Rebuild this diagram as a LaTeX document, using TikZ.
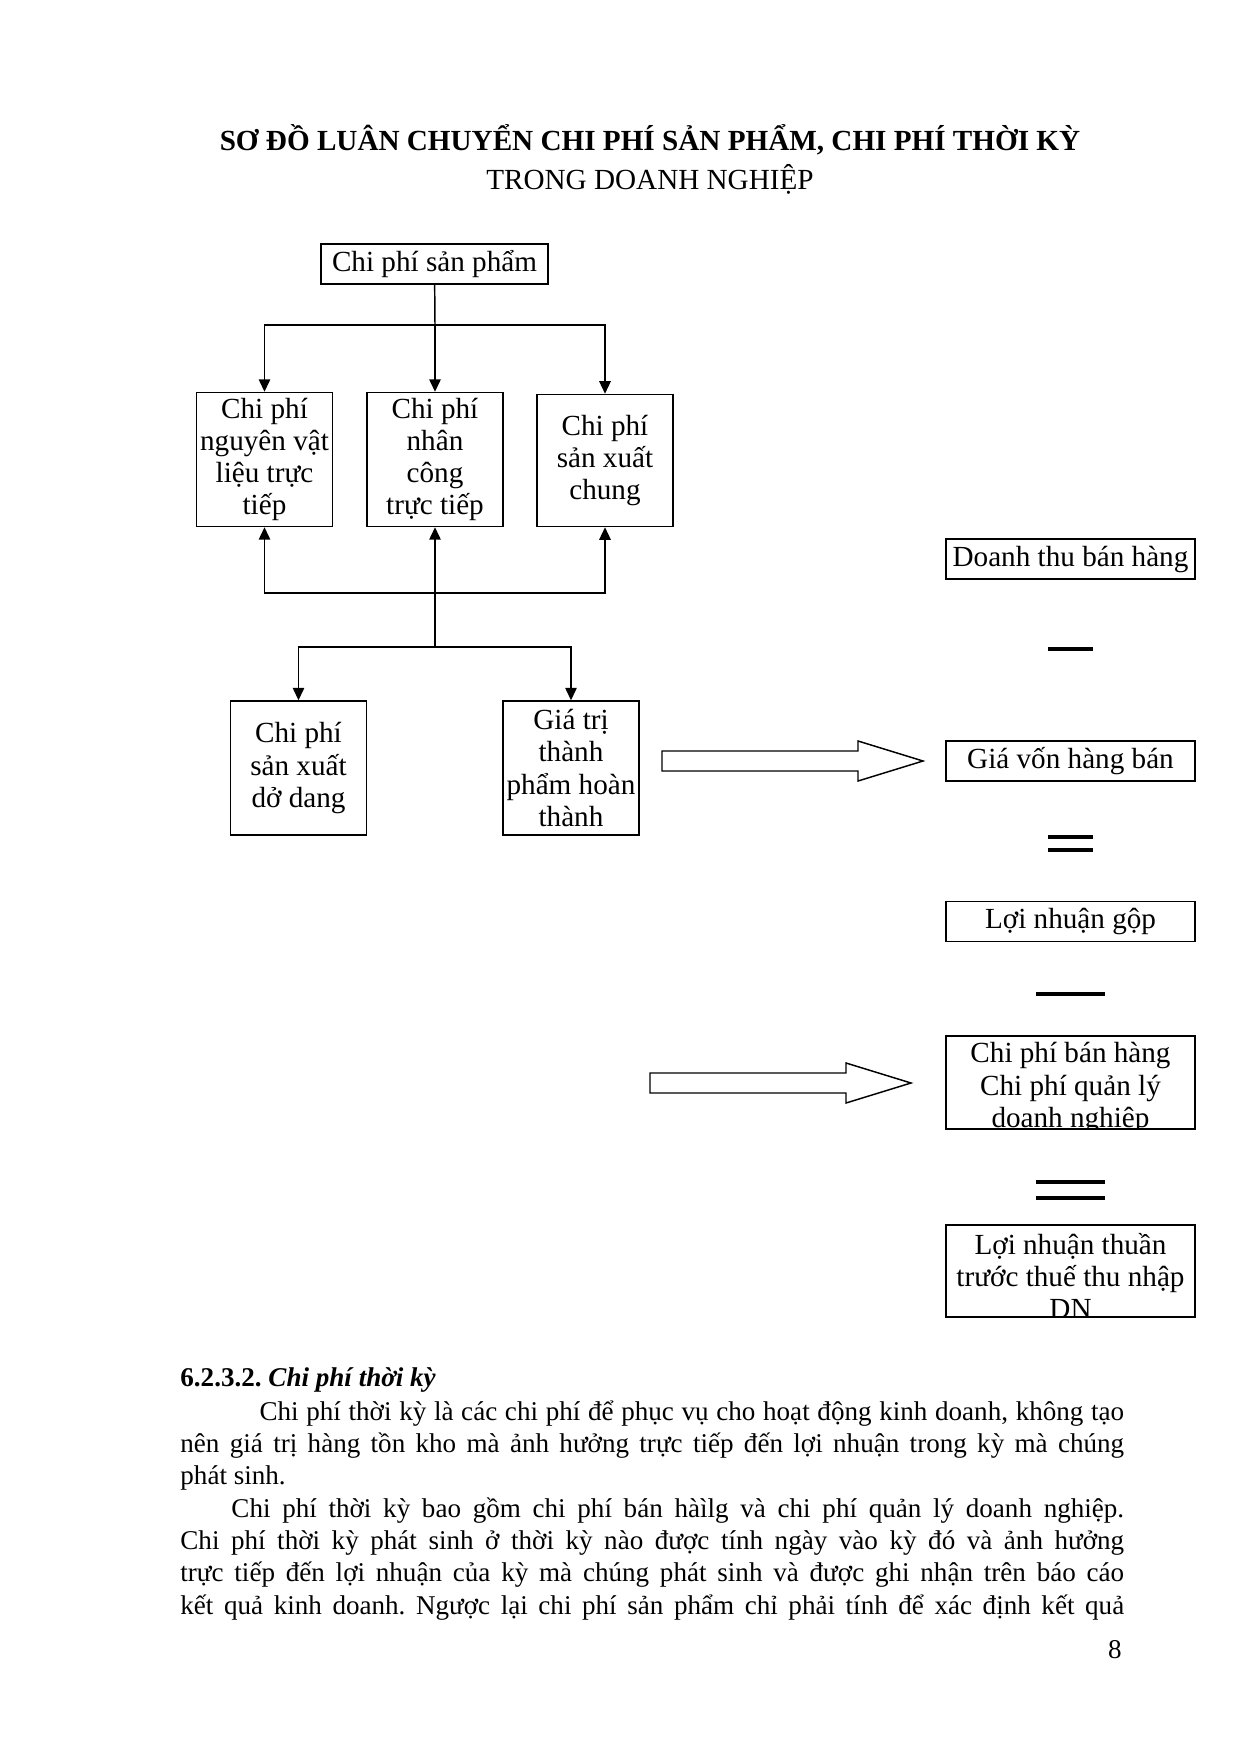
\documentclass[tikz,border=0pt]{standalone}
\usepackage{fontspec}
\setmainfont{Liberation Serif}
\usetikzlibrary{arrows.meta}

\begin{document}
\begin{tikzpicture}[x=0.48pt,y=-0.48pt]
\tikzset{box/.style = {draw, line width=0.7pt, inner sep=0.5pt, align=center,
    font=\fontsize{14}{15.5}\selectfont, minimum width=65.3pt, minimum height=64.3pt},
  wbox/.style = {box, minimum width=119.5pt, minimum height=19.2pt},
  arr/.style = {line width=0.7pt, -{Triangle[length=6pt,width=5.5pt]}},
  sign/.style = {line width=1.6pt},
  hollow/.style = {draw, line width=0.7pt, fill=white},
  body/.style = {font=\fontsize{13}{15.55}\selectfont\frenchspacing}}
\useasboundingbox (0,0) rectangle (1240,1753);
\node[anchor=base, font=\fontsize{14}{17}\selectfont\bfseries] (title) at (650,150)
  {SƠ ĐỒ LUÂN CHUYỂN CHI PHÍ SẢN PHẨM, CHI PHÍ THỜI KỲ};
\node[anchor=base, font=\fontsize{14}{17}\selectfont] (subtitle) at (650,189) {TRONG DOANH NGHIỆP};
\node[box, minimum width=109pt, minimum height=19.2pt] (sp) at (434.5,264) {Chi phí sản phẩm};
\node[box] (nvl) at (264.5,459.5) {Chi phí\\nguyên vật\\liệu trực\\tiếp};
\node[box] (nc) at (435,459.5) {Chi phí\\nhân\\công\\trực tiếp};
\node[box, minimum height=63.4pt] (sxc) at (605,460.5) {Chi phí\\sản xuất\\chung};
\node[box] (dd) at (298.5,768) {Chi phí\\sản xuất\\dở dang};
\node[box] (tp) at (571,768) {Giá trị\\thành\\phẩm hoàn\\thành};
\coordinate (j1) at (435,325);
\coordinate (j2) at (435,593);
\coordinate (j3) at (435,647);
\draw[line width=0.7pt] (sp) -- (j1);
\draw[arr] (j1) -| (nvl);
\draw[arr] (j1) -- (nc);
\draw[arr] (j1) -| (sxc);
\draw[arr] (j3) -- (nc);
\draw[arr] (j2) -| (nvl);
\draw[arr] (j2) -| (sxc);
\draw[arr] (j3) -| (dd);
\draw[arr] (j3) -| (tp);
\foreach \xs/\xe/\yc in {662/923/761, 650/911/1083}
  \draw[hollow] (\xs,\yc-10) -- (\xe-65,\yc-10) -- (\xe-65,\yc-20) -- (\xe,\yc)
    -- (\xe-65,\yc+20) -- (\xe-65,\yc+10) -- (\xs,\yc+10) -- cycle;
\node[wbox] (dt) at (1070.5,559) {Doanh thu bán hàng};
\node[wbox] (gv) at (1070.5,761) {Giá vốn hàng bán};
\node[wbox] (lng) at (1070.5,921.5) {Lợi nhuận gộp};
\node[wbox, minimum height=44.6pt] (cp) at (1070.5,1082.5) {};
\node[wbox, minimum height=44.2pt] (lnt) at (1070.5,1271) {};
\begin{scope}
  \clip (cp.north west) rectangle (cp.south east);
  \node[box, draw=none, minimum height=0pt] (cptext) at (1070.5,1088)
    {Chi phí bán hàng\\Chi phí quản lý\\doanh nghiệp};
\end{scope}
\begin{scope}
  \clip (lnt.north west) rectangle (lnt.south east);
  \node[box, draw=none, minimum height=0pt] (lnttext) at (1070.5,1276)
    {Lợi nhuận thuần\\trước thuế thu nhập\\DN};
\end{scope}
\draw[sign] (1048,649) -- (1093,649);
\draw[sign] (1048,837) -- (1093,837) (1048,850) -- (1093,850);
\draw[sign] (1036,994) -- (1105,994);
\draw[sign] (1036,1182) -- (1105,1182) (1036,1198) -- (1105,1198);
\node[body, anchor=base west, inner sep=0pt] (sec) at (180,1386)
  {\bfseries 6.2.3.2. \textit{Chi phí thời kỳ}};
\node[body, anchor=base west, inner sep=0pt, text width=453pt, align=justify] (para) at (180,1420)
  {\hyphenpenalty=10000\hspace*{38pt}Chi phí thời kỳ là các chi phí để phục vụ cho hoạt động kinh doanh, không tạo\linebreak
  nên giá trị hàng tồn kho mà ảnh hưởng trực tiếp đến lợi nhuận trong kỳ mà chúng\linebreak
  phát sinh.\par
  \hspace*{24.5pt}Chi phí thời kỳ bao gồm chi phí bán hàìlg và chi phí quản lý doanh nghiệp.\linebreak
  Chi phí thời kỳ phát sinh ở thời kỳ nào được tính ngày vào kỳ đó và ảnh hưởng\linebreak
  trực tiếp đến lợi nhuận của kỳ mà chúng phát sinh và được ghi nhận trên báo cáo\linebreak
  kết quả kinh doanh. Ngược lại chi phí sản phẩm chỉ phải tính để xác định kết quả\parfillskip=0pt\par};
\node[body, anchor=base] (pg) at (1115,1658) {8};
\end{tikzpicture}
\end{document}
